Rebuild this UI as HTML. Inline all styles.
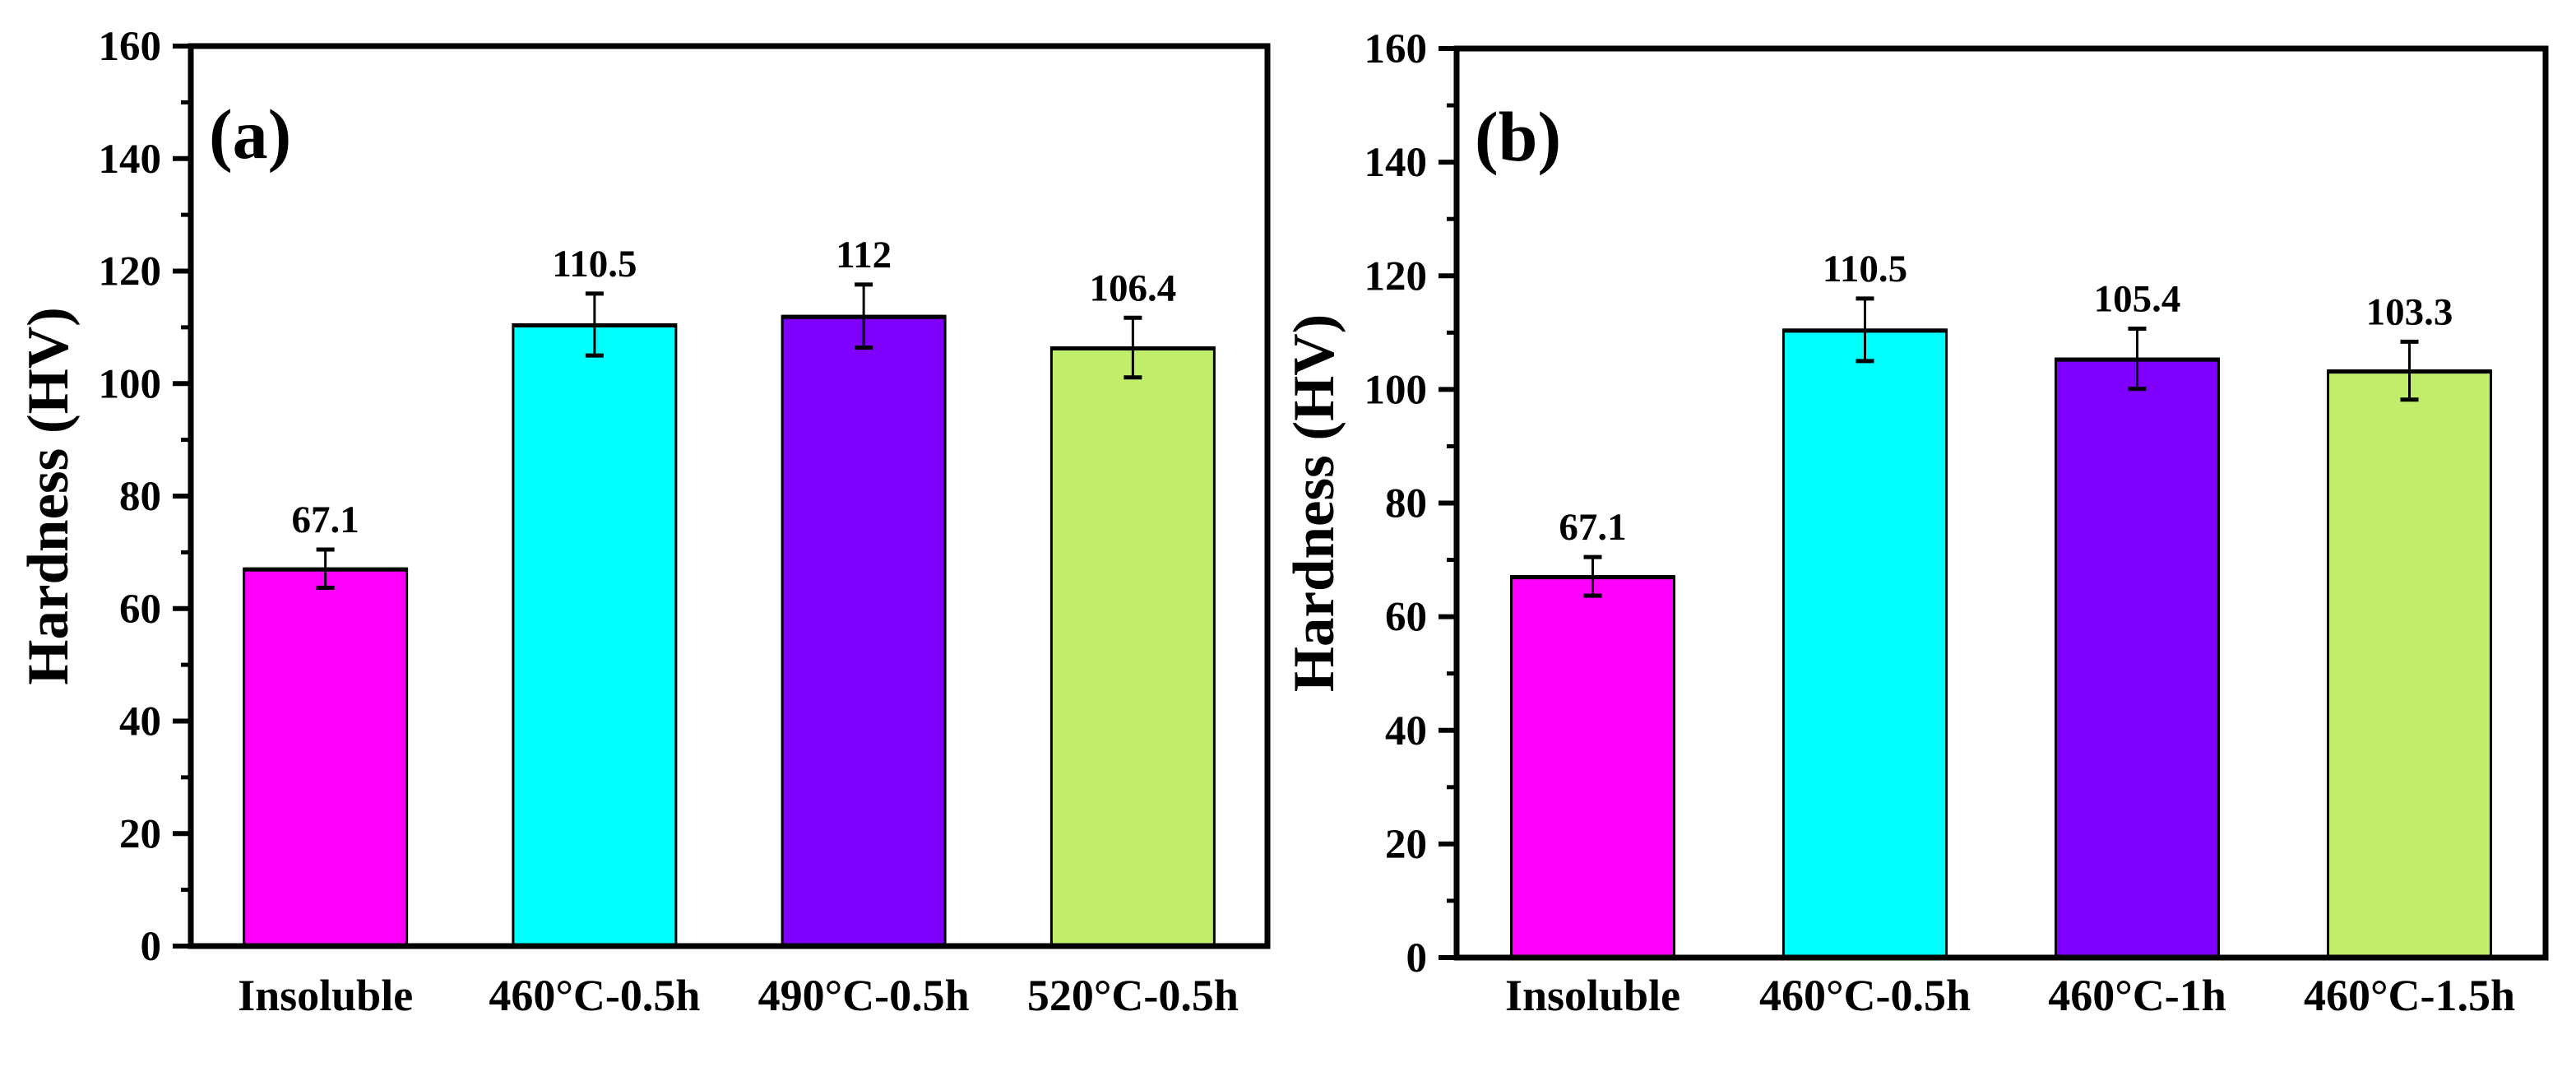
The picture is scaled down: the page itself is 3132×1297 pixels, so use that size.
<!DOCTYPE html>
<html><head><meta charset="utf-8"><style>
html,body{margin:0;padding:0;background:#fff;}
svg{display:block;font-family:"Liberation Serif","Times New Roman",serif;font-weight:bold;}
</style></head><body>
<svg id="chart" width="3132" height="1297" viewBox="0 0 3132 1297" xmlns="http://www.w3.org/2000/svg"></svg>
<script>
const categoriesA = ["Insoluble", "460°C-0.5h", "490°C-0.5h", "520°C-0.5h"];
const valuesA = [67.1, 110.5, 112, 106.4];
const errorsA = [3.4, 5.5, 5.6, 5.3];
const labelsA = ["67.1", "110.5", "112", "106.4"];
const categoriesB = ["Insoluble", "460°C-0.5h", "460°C-1h", "460°C-1.5h"];
const valuesB = [67.1, 110.5, 105.4, 103.3];
const errorsB = [3.4, 5.5, 5.3, 5.1];
const labelsB = ["67.1", "110.5", "105.4", "103.3"];
const yTicks = [0, 20, 40, 60, 80, 100, 120, 140, 160];
const barColors = ["#ff00ff", "#00ffff", "#8000ff", "#c0ee6a"];

const NS = "http://www.w3.org/2000/svg";
const svg = document.getElementById("chart");
function mk(tag, attrs, parent) {
  const e = document.createElementNS(NS, tag);
  for (const k in attrs) e.setAttribute(k, attrs[k]);
  (parent || svg).appendChild(e);
  return e;
}

function panel(p) {
  const g = mk("g", {});
  
  
  const yS = v => p.y0 + (p.y1 - p.y0) * v / 160;
  const n = p.cats.length;
  const step = (p.x1 - p.x0) / n;
  const xS = i => p.x0 + step * (i + 0.5);
  const bw = 198;
  p.vals.forEach((v, i) => {
    const r = mk("rect", {x: xS(i) - bw / 2, y: yS(v), width: bw, height: yS(0) - yS(v), fill: barColors[i], stroke: "#000", "stroke-width": 3}, g);
    
    
    const top = mk("line", {x1: xS(i) - bw / 2, x2: xS(i) + bw / 2, y1: yS(v) + 1, y2: yS(v) + 1, stroke: "#000", "stroke-width": 5}, g);
    
    
    const eg = mk("g", {stroke: "#000", "stroke-width": 3}, g);
    
    
    const e = p.errs[i];
    mk("line", {x1: xS(i), x2: xS(i), y1: yS(v + e), y2: yS(v - e)}, eg);
    mk("line", {x1: xS(i) - 11, x2: xS(i) + 11, y1: yS(v + e), y2: yS(v + e), "stroke-width": 5}, eg);
    mk("line", {x1: xS(i) - 11, x2: xS(i) + 11, y1: yS(v - e), y2: yS(v - e), "stroke-width": 5}, eg);
    const t = mk("text", {x: xS(i), y: yS(v + e) - 21, "text-anchor": "middle", "font-size": 47}, g);
    t.textContent = p.labels[i];
    
    
    const xl = mk("text", {x: xS(i), y: 1228, "text-anchor": "middle", "font-size": 54}, g);
    xl.textContent = p.cats[i];
    
    
  });
  yTicks.forEach((v, i) => {
    const tk = mk("line", {x1: p.x0 - 22, x2: p.x0, y1: yS(v), y2: yS(v), stroke: "#000", "stroke-width": 6}, g);
    
    
    if (i < yTicks.length - 1) {
      const mt = mk("line", {x1: p.x0 - 12, x2: p.x0, y1: yS(v + 10), y2: yS(v + 10), stroke: "#000", "stroke-width": 5}, g);
      
      
    }
    const tl = mk("text", {x: p.x0 - 36, y: yS(v) + 17, "text-anchor": "end", "font-size": 51}, g);
    tl.textContent = v;
    
    
  });
  const fr = mk("rect", {x: p.x0, y: p.y1, width: p.x1 - p.x0, height: p.y0 - p.y1, fill: "none", stroke: "#000", "stroke-width": 7}, g);
  
  
  const yt = mk("text", {x: 0, y: 0, "text-anchor": "middle", "font-size": 71, transform: "translate(" + (p.x0 - 150) + "," + ((p.y0 + p.y1) / 2) + ") rotate(-90)"}, g);
  yt.textContent = "Hardness (HV)";
  
  
  const pl = mk("text", {x: p.x0 + 22, y: p.y1 + 136, "font-size": 86}, g);
  pl.textContent = "(" + p.id + ")";
  
  
}

panel({id: "a", x0: 232, x1: 1541, y0: 1150, y1: 56, cats: categoriesA, vals: valuesA, errs: errorsA, labels: labelsA});
panel({id: "b", x0: 1771, x1: 3095, y0: 1164, y1: 59, cats: categoriesB, vals: valuesB, errs: errorsB, labels: labelsB});
</script>
</body></html>
